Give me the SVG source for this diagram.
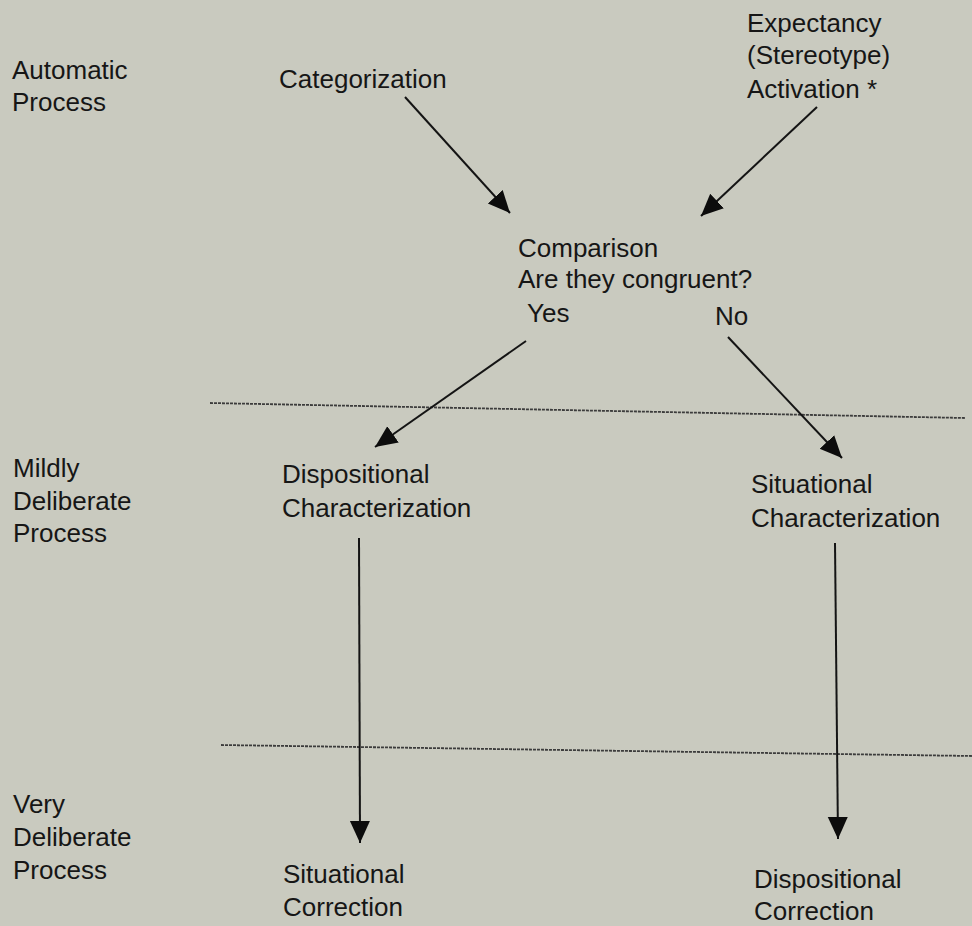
<svg xmlns="http://www.w3.org/2000/svg" width="972" height="926" viewBox="0 0 972 926">
<style>
text{font-family:"Liberation Sans",Arial,sans-serif;font-size:26px;fill:#161616}
.c{stroke:#141414;stroke-width:2;fill:none}
.d{stroke:#3c3c3c;stroke-width:1.8;stroke-dasharray:3 1;fill:none}
</style>
<defs>
<marker id="ah" markerUnits="userSpaceOnUse" markerWidth="24" markerHeight="22" refX="22" refY="10" orient="auto" viewBox="0 0 24 22">
<path d="M0,0 L22,10 L0,20 z" fill="#0c0c0c"/>
</marker>
</defs>
<rect width="972" height="926" fill="#c9cabf"/>
<g id="levels">
<text x="12" y="79">Automatic</text>
<text x="12" y="111">Process</text>
<text x="13" y="477">Mildly</text>
<text x="13" y="510">Deliberate</text>
<text x="13" y="542">Process</text>
<text x="13" y="813">Very</text>
<text x="13" y="846">Deliberate</text>
<text x="13" y="879">Process</text>
</g>
<g id="categorization"><text x="279" y="88">Categorization</text></g>
<g id="expectancy">
<text x="747" y="32">Expectancy</text>
<text x="747" y="64">(Stereotype)</text>
<text x="747" y="98">Activation *</text>
</g>
<g id="comparison">
<text x="518" y="257">Comparison</text>
<text x="518" y="288">Are they congruent?</text>
<text x="527" y="322">Yes</text>
<text x="715" y="325">No</text>
</g>
<g id="disp-char">
<text x="282" y="483">Dispositional</text>
<text x="282" y="517">Characterization</text>
</g>
<g id="sit-char">
<text x="751" y="493">Situational</text>
<text x="751" y="527">Characterization</text>
</g>
<g id="sit-corr">
<text x="283" y="883">Situational</text>
<text x="283" y="916">Correction</text>
</g>
<g id="disp-corr">
<text x="754" y="888">Dispositional</text>
<text x="754" y="920">Correction</text>
</g>
<g id="dividers">
<path class="d" d="M210,403 L965,418"/>
<path class="d" d="M221,745 L972,756"/>
</g>
<g id="connectors">
<path class="c" d="M405,97 L510,213" marker-end="url(#ah)"/>
<path class="c" d="M817,107 L701,216" marker-end="url(#ah)"/>
<path class="c" d="M526,341 L375,447" marker-end="url(#ah)"/>
<path class="c" d="M728,337 L842,458" marker-end="url(#ah)"/>
<path class="c" d="M359,538 L360,843" marker-end="url(#ah)"/>
<path class="c" d="M835,543 L838,839" marker-end="url(#ah)"/>
</g>
</svg>
